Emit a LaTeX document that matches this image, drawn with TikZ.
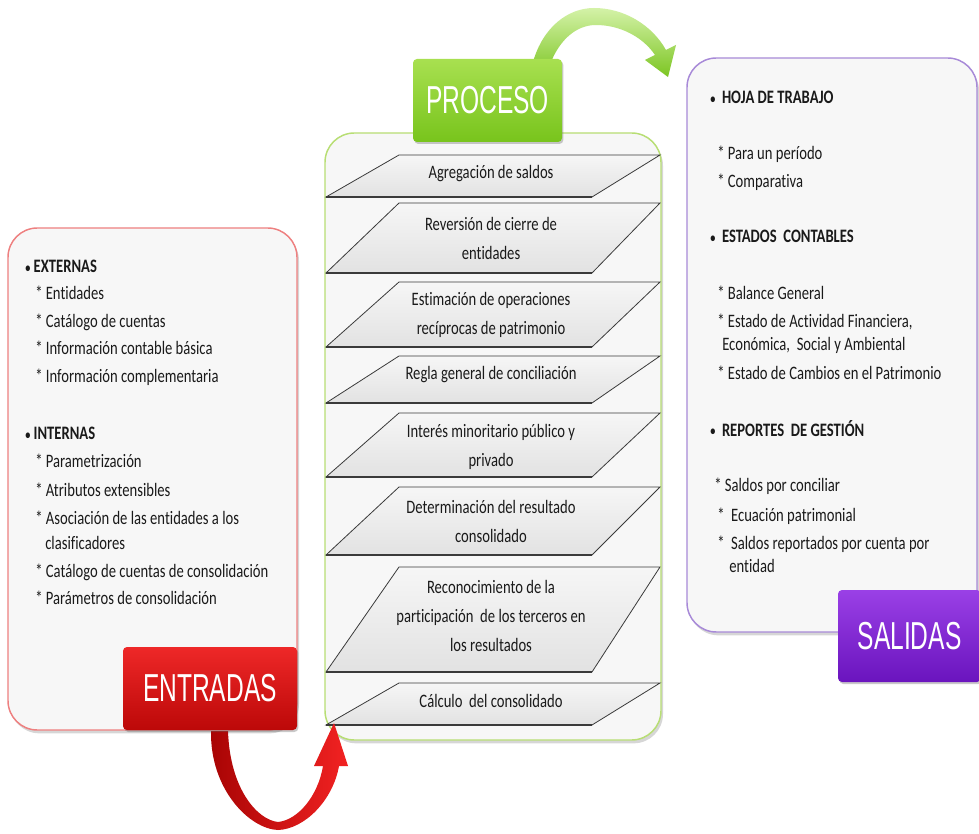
\documentclass[tikz,border=0pt]{standalone}
\usepackage{fontspec}
\setmainfont{Carlito}[FakeStretch=0.77, Ligatures={NoCommon}]
\newfontfamily\labelfont{Liberation Sans}[FakeStretch=0.63]
\usetikzlibrary{shadows}
\definecolor{textc}{HTML}{1A1A1A}
\definecolor{boxfill}{HTML}{F7F7F7}
\definecolor{inborder}{HTML}{EE8080}
\definecolor{procborder}{HTML}{B8DE74}
\definecolor{outborder}{HTML}{A88AD8}
\definecolor{paratop}{HTML}{F6F6F6}
\definecolor{parabot}{HTML}{E2E2E2}
\definecolor{paraline}{HTML}{3A3A3A}
\definecolor{redtop}{HTML}{EE2828}
\definecolor{redbot}{HTML}{BC0808}
\definecolor{greentop}{HTML}{A8E050}
\definecolor{greenbot}{HTML}{78C41C}
\definecolor{purptop}{HTML}{9A40E6}
\definecolor{purpbot}{HTML}{6A14BE}
\definecolor{garrowtop}{HTML}{D4F2A8}
\definecolor{garrowbot}{HTML}{7CC522}
\definecolor{rarrowl}{HTML}{A80404}
\definecolor{rarrowr}{HTML}{F22222}
\newcommand{\smallbul}{\raisebox{0.5pt}{\fontsize{10}{10}\selectfont\textbullet}}
\begin{document}
\begin{tikzpicture}[x=0.75pt,y=-0.75pt,
  txt/.style={inner sep=0pt, text=textc, font=\fontsize{14.25}{17}\selectfont},
  litem/.style={txt, anchor=base west},
  lhead/.style={litem, font=\fontsize{14.25}{17}\selectfont\bfseries},
  ptext/.style={inner sep=0pt, text=textc, align=center, font=\fontsize{14.25}{21.75}\selectfont},
  bigbox/.style={rounded corners=22pt, fill=boxfill, line width=1.1pt,
    drop shadow={shadow xshift=1.5pt, shadow yshift=-2.5pt, fill=black!45, opacity=0.35}},
  labelbox/.style={rounded corners=3pt, inner sep=0pt, text=white,
    font=\labelfont\fontsize{29.25}{30}\selectfont,
    drop shadow={shadow xshift=1pt, shadow yshift=-1.5pt, fill=black!60, opacity=0.35}},
  para/.style={draw=paraline, line width=0.6pt, top color=paratop, bottom color=parabot},
  paraedge/.style={draw=paraline, line width=1.4pt},
]
\useasboundingbox (0,0) rectangle (979,834);
\fill[white] (0,0) rectangle (979,834);

% big boxes
\path[bigbox, draw=inborder] (8,228) rectangle (297,730);
\path[bigbox, draw=procborder] (325,133) rectangle (661,740);
\path[bigbox, draw=outborder] (687,58) rectangle (977,632);

% parallelograms
\foreach \t/\b in {155/197, 203/273, 282/347, 356/403, 413/477, 487/555, 567/672, 683/725} {
  \path[para] (399,\t) -- (660,\t) -- (592,\b) -- (326,\b) -- cycle;
  \draw[paraedge] (326,\b) -- (592,\b);
}

% process texts
\node[ptext] (p1) at (491,174) {Agregación de saldos};
\node[ptext] (p2) at (491,238.5) {Reversión de cierre de\\entidades};
\node[ptext] (p3) at (491,315) {Estimación de operaciones\\recíprocas de patrimonio};
\node[ptext] (p4) at (491,375) {Regla general de conciliación};
\node[ptext] (p5) at (491,447) {Interés minoritario público y\\privado};
\node[ptext] (p6) at (491,521.5) {Determinación del resultado\\consolidado};
\node[ptext] (p7) at (491,616) {Reconocimiento de la\\participación\ \ de los terceros en\\los resultados};
\node[ptext] (p8) at (491,701) {Cálculo\ \ del consolidado};

% red arrow (ENTRADAS -> PROCESO)
\shade[left color=rarrowl, right color=rarrowr]
  (211,731) .. controls (210,790) and (250,829) .. (278,830)
  .. controls (305,829) and (333,800) .. (339,766)
  -- (348,766) -- (334,723) -- (314,766) -- (323,766)
  .. controls (318,796) and (298,820) .. (278,822)
  .. controls (258,820) and (230,790) .. (228,731) -- cycle;

% green arrow (PROCESO -> SALIDAS)
\shade[top color=garrowtop, bottom color=garrowbot]
  (533,62) .. controls (543,27) and (568,8) .. (594,8)
  .. controls (624,8) and (652,25) .. (666,50)
  -- (676,45) -- (668,77) -- (645,60) -- (655,55)
  .. controls (643,37) and (620,25) .. (596,25)
  .. controls (576,25) and (560,40) .. (551,62) -- cycle;

% label boxes
\node[labelbox, top color=redtop, bottom color=redbot,
  minimum width=130.5pt, minimum height=62.25pt] (entradas) at (210,688.5) {ENTRADAS};
\node[labelbox, top color=greentop, bottom color=greenbot,
  minimum width=111.75pt, minimum height=62.25pt] (proceso) at (487.5,100.5) {PROCESO};
\node[labelbox, top color=purptop, bottom color=purpbot,
  minimum width=107.25pt, minimum height=69pt] (salidas) at (909.5,636) {SALIDAS};

% inputs list
\node[lhead] (l1) at (25,273) {\smallbul\ EXTERNAS};
\node[litem] (l2) at (35,300) {* Entidades};
\node[litem] (l3) at (35,328) {* Catálogo de cuentas};
\node[litem] (l4) at (35,355) {* Información contable básica};
\node[litem] (l5) at (35,383) {* Información complementaria};
\node[lhead] (l6) at (25,440) {\smallbul\ INTERNAS};
\node[litem] (l7) at (35,468) {* Parametrización};
\node[litem] (l8) at (35,496) {* Atributos extensibles};
\node[litem] (l9) at (35,524) {* Asociación de las entidades a los};
\node[litem] (l10) at (45,549) {clasificadores};
\node[litem] (l11) at (35,577) {* Catálogo de cuentas de consolidación};
\node[litem] (l12) at (35,604) {* Parámetros de consolidación};

% outputs list
\node[lhead] (r1) at (710,104) {\smallbul\ \ HOJA DE TRABAJO};
\node[litem] (r2) at (717,160) {* Para un período};
\node[litem] (r3) at (717,188) {* Comparativa};
\node[lhead] (r4) at (710,243) {\smallbul\ \ ESTADOS\ \ CONTABLES};
\node[litem] (r5) at (717,300) {* Balance General};
\node[litem] (r6) at (717,328) {* Estado de Actividad Financiera,};
\node[litem] (r7) at (722,351) {Económica,\ \ Social y Ambiental};
\node[litem] (r8) at (717,380) {* Estado de Cambios en el Patrimonio};
\node[lhead] (r9) at (710,436) {\smallbul\ \ REPORTES\ \ DE GESTIÓN};
\node[litem] (r10) at (714,492) {* Saldos por conciliar};
\node[litem] (r11) at (717,521) {*\ \ Ecuación patrimonial};
\node[litem] (r12) at (717,549) {*\ \ Saldos reportados por cuenta por};
\node[litem] (r13) at (729,572) {entidad};
\end{tikzpicture}
\end{document}
